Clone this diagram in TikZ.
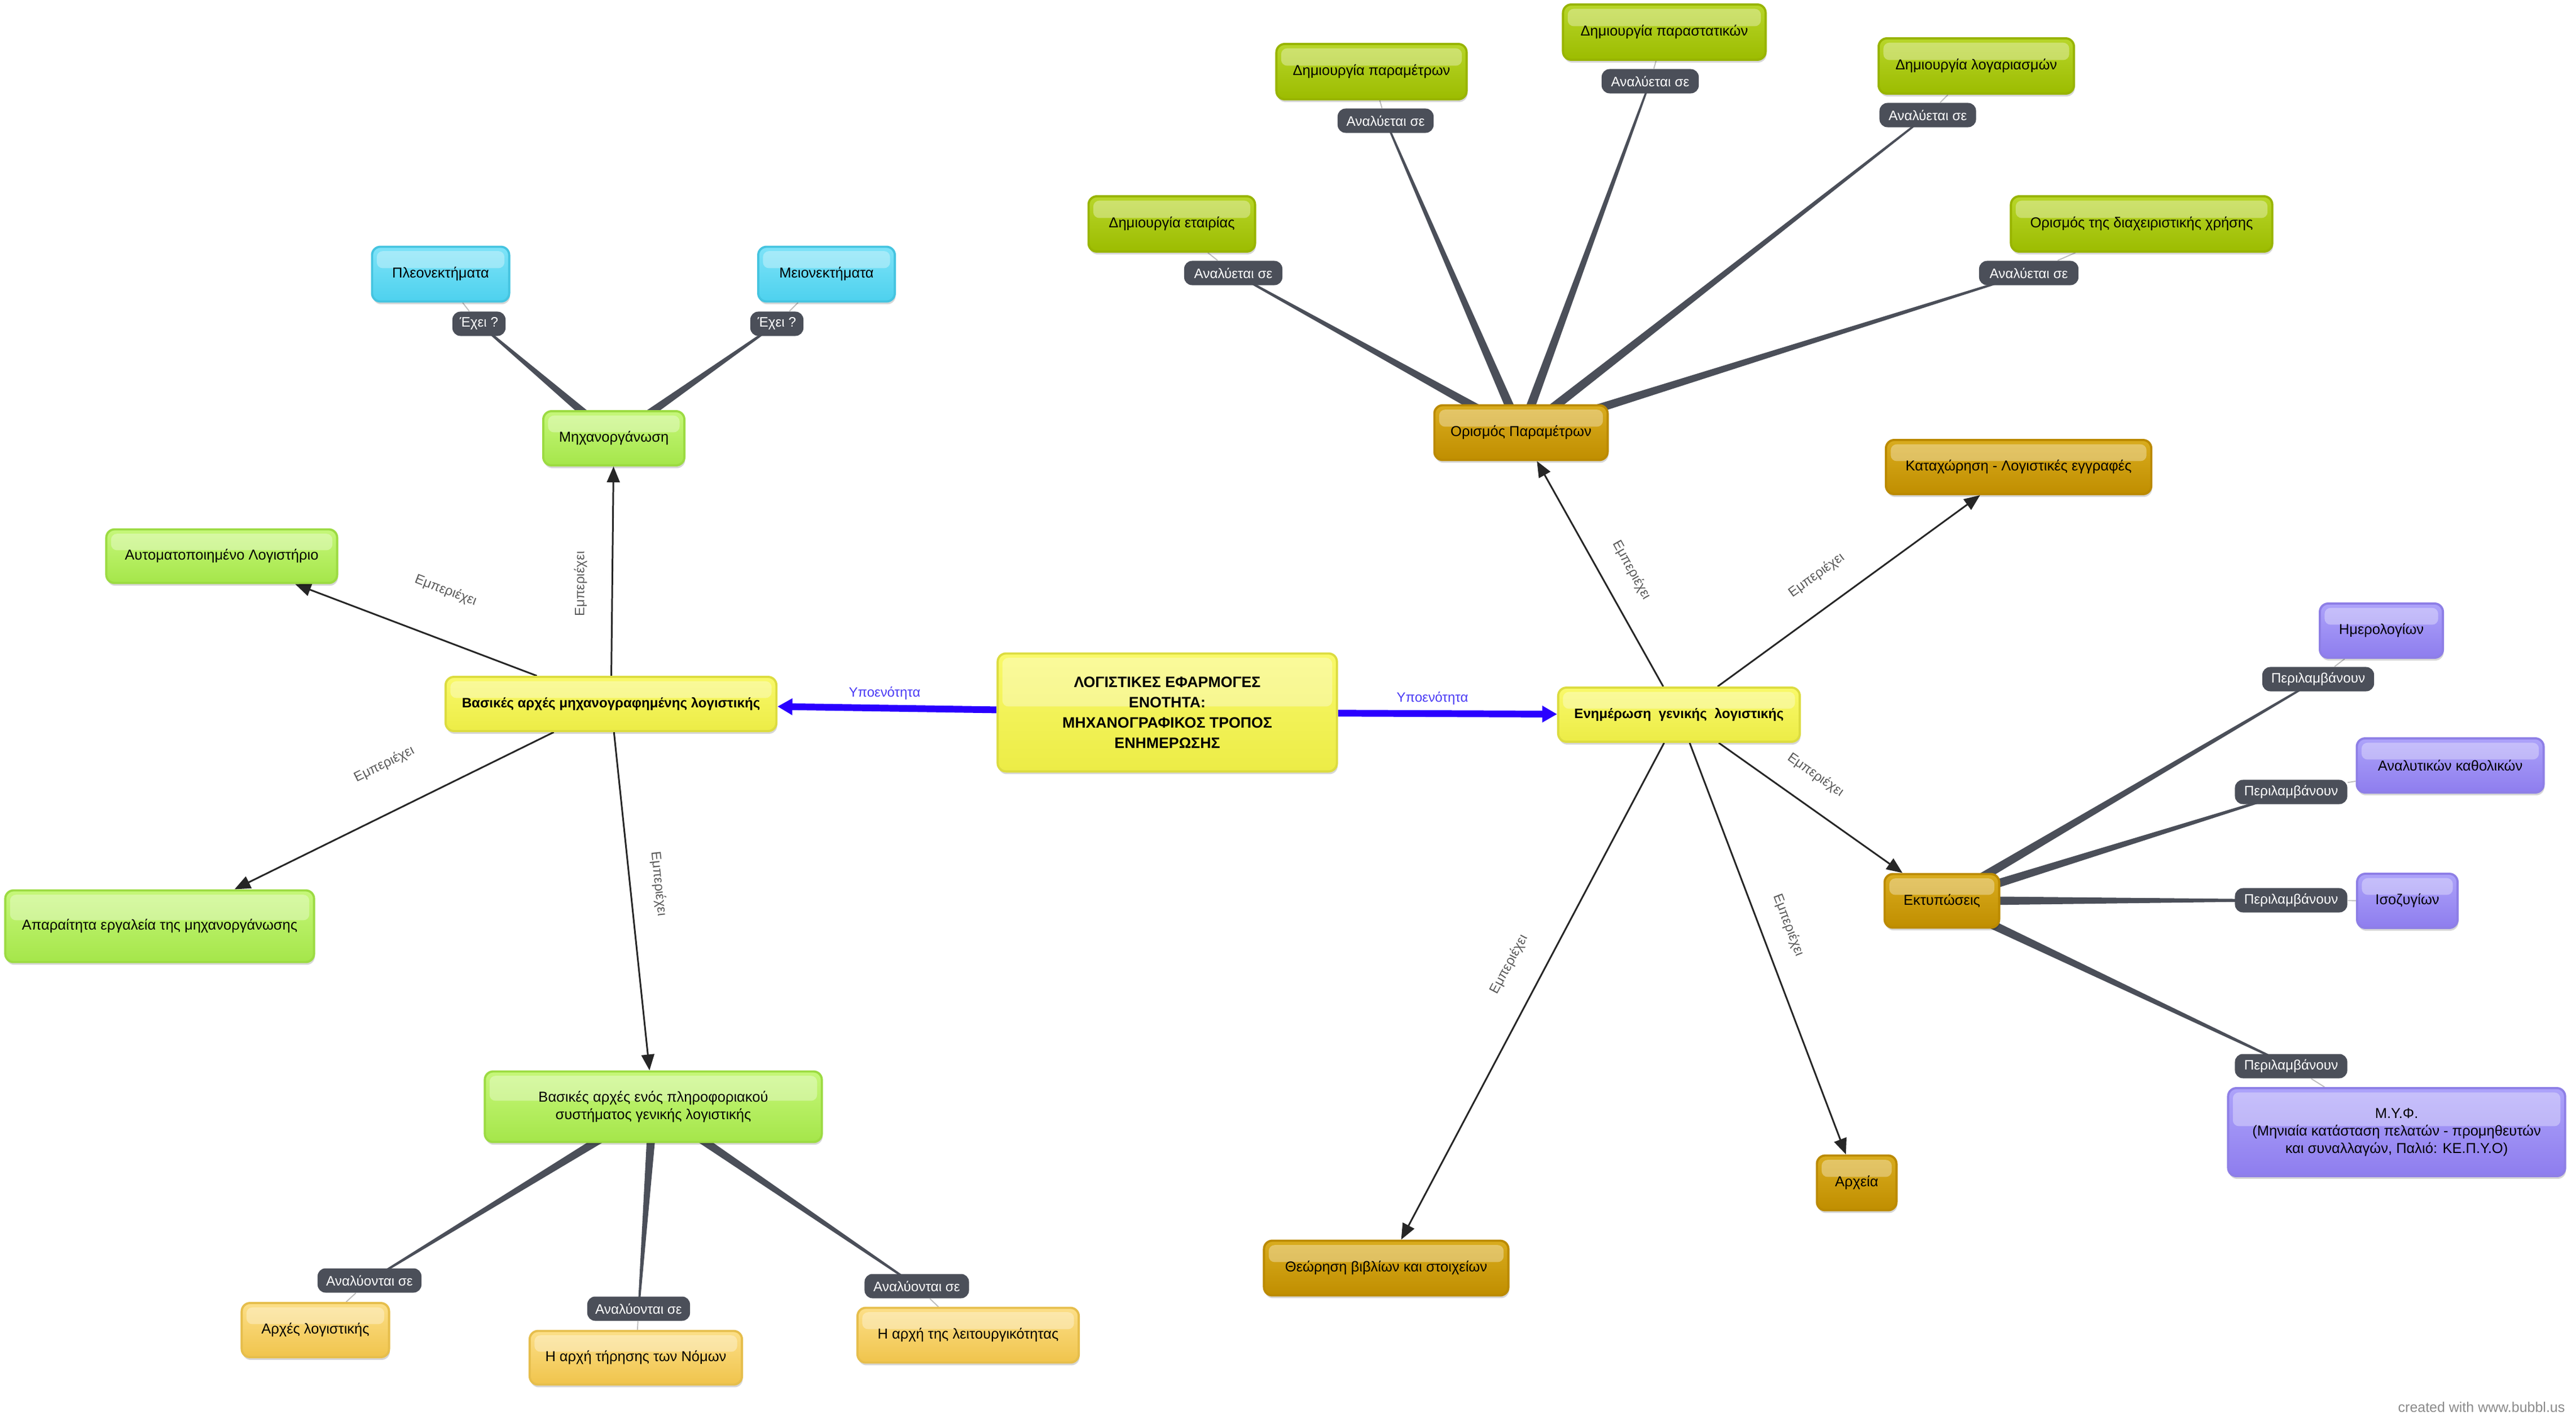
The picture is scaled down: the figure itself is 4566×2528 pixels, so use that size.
\documentclass[tikz,border=0pt]{standalone}
\usepackage{fontspec}
\setmainfont{Liberation Sans}
\usetikzlibrary{arrows.meta,calc,shadows}
\pgfdeclarelayer{bg}
\pgfdeclarelayer{edges}
\pgfsetlayers{bg,edges,main}

\definecolor{ytop}{HTML}{F9F96A}\definecolor{ybot}{HTML}{ECEC46}\definecolor{ybd}{HTML}{DCDC40}
\definecolor{gtop}{HTML}{C6F77A}\definecolor{gbot}{HTML}{A5E64A}\definecolor{gbd}{HTML}{9CDB42}
\definecolor{vtop}{HTML}{B8D62A}\definecolor{vbot}{HTML}{9CBC00}\definecolor{vbd}{HTML}{98B400}
\definecolor{ctop}{HTML}{7EE3F8}\definecolor{cbot}{HTML}{4DD1EE}\definecolor{cbd}{HTML}{45C4E0}
\definecolor{dtop}{HTML}{D9AC1E}\definecolor{dbot}{HTML}{C08E00}\definecolor{dbd}{HTML}{BB8A00}
\definecolor{otop}{HTML}{FCDF88}\definecolor{obot}{HTML}{F0C44C}\definecolor{obd}{HTML}{E6BE4C}
\definecolor{ptop}{HTML}{ADA3FA}\definecolor{pbot}{HTML}{8E7DEE}\definecolor{pbd}{HTML}{8E7FE6}
\definecolor{pillc}{HTML}{4B4F59}
\definecolor{taperc}{HTML}{4B4F59}
\definecolor{thinc}{HTML}{BDBDBD}
\definecolor{arrc}{HTML}{262626}
\definecolor{bluec}{HTML}{2A00FF}
\definecolor{labc}{HTML}{5A5A5A}
\definecolor{subc}{HTML}{4A3AF5}
\definecolor{credc}{HTML}{8A8A8A}

\newcommand\fnode{\fontsize{7.25pt}{8.8pt}\selectfont}
\newcommand\fbnode{\fontsize{6.85pt}{8.8pt}\selectfont\bfseries}
\newcommand\fpill{\fontsize{6.9pt}{8pt}\selectfont}
\newcommand\flab{\fontsize{6.8pt}{8pt}\selectfont}
\newcommand\fcenter{\fontsize{7.6pt}{10.3pt}\selectfont\bfseries}

\newcommand\taperline[2]{%
  \fill[taperc] ($(#1)!0.085cm!90:(#2)$) -- ($(#2)!0.015cm!-90:(#1)$) --
    ($(#2)!0.015cm!90:(#1)$) -- ($(#1)!0.085cm!-90:(#2)$) -- cycle;}

\tikzset{
  box/.style={rounded corners=4.2pt, line width=1.1pt, inner sep=0pt, align=center,
    font=\fnode, text=black,
    drop shadow={shadow xshift=0.4pt, shadow yshift=-1.4pt, opacity=0.16, fill=black},
    path picture={\fill[white,opacity=0.33,rounded corners=3pt]
      ([xshift=2.4pt,yshift=-2.2pt]path picture bounding box.north west) rectangle
      ([xshift=-2.4pt,yshift=3pt]path picture bounding box.east);}},
  ybox/.style={box, draw=ybd, top color=ytop, bottom color=ybot},
  gbox/.style={box, draw=gbd, top color=gtop, bottom color=gbot},
  vbox/.style={box, draw=vbd, top color=vtop, bottom color=vbot},
  cbox/.style={box, draw=cbd, top color=ctop, bottom color=cbot},
  dbox/.style={box, draw=dbd, top color=dtop, bottom color=dbot},
  obox/.style={box, draw=obd, top color=otop, bottom color=obot},
  pbox/.style={box, draw=pbd, top color=ptop, bottom color=pbot},
  pill/.style={fill=pillc, rounded corners=4pt, text=white, font=\fpill,
    inner sep=0pt, minimum height=0.43cm},
  elab/.style={font=\flab, text=labc, inner sep=0pt},
  sublab/.style={font=\flab, text=subc, inner sep=0pt},
  arr/.style={draw=arrc, line width=0.85pt, -{Triangle[length=8pt,width=6.5pt]}},
  bluearr/.style={draw=bluec, line width=3.4pt, -{Triangle[length=7.5pt,width=8pt]}},
  thinline/.style={draw=thinc, line width=0.55pt}
}

\begin{document}
\begin{tikzpicture}[x=0.01cm,y=-0.01cm]
\begin{pgfonlayer}{bg}
  \fill[white] (0,0) rectangle (4566,2528);
\end{pgfonlayer}
\useasboundingbox (0,0) rectangle (4566,2528);

% ---------- nodes ----------
\node[cbox, minimum width=2.43cm, minimum height=0.97cm] (pleon) at (781,486) {Πλεονεκτήματα};
\node[cbox, minimum width=2.42cm, minimum height=0.97cm] (meion) at (1465,486) {Μειονεκτήματα};
\node[gbox, minimum width=2.50cm, minimum height=0.96cm] (mech) at (1088,777) {Μηχανοργάνωση};
\node[ybox, font=\fbnode, minimum width=5.86cm, minimum height=0.96cm] (basicmech) at (1083,1248) {Βασικές αρχές μηχανογραφημένης λογιστικής};
\node[gbox, minimum width=4.09cm, minimum height=0.95cm] (auto) at (393,986) {Αυτοματοποιημένο Λογιστήριο};
\node[gbox, minimum width=5.47cm, minimum height=1.27cm] (apar) at (283,1642) {Απαραίτητα εργαλεία της μηχανοργάνωσης};
\node[gbox, minimum width=5.97cm, minimum height=1.25cm] (basicinfo) at (1158,1962) {Βασικές αρχές ενός πληροφοριακού\\συστήματος γενικής λογιστικής};
\node[obox, minimum width=2.61cm, minimum height=0.96cm] (arxes) at (559,2358) {Αρχές λογιστικής};
\node[obox, minimum width=3.76cm, minimum height=0.95cm] (nomwn) at (1127,2407) {Η αρχή τήρησης των Νόμων};
\node[obox, minimum width=3.92cm, minimum height=0.97cm] (leit) at (1716,2367) {Η αρχή της λειτουργικότητας};
\node[ybox, font=\fcenter, minimum width=6.01cm, minimum height=2.09cm] (center) at (2069,1263) {ΛΟΓΙΣΤΙΚΕΣ ΕΦΑΡΜΟΓΕΣ\\ΕΝΟΤΗΤΑ:\\ΜΗΧΑΝΟΓΡΑΦΙΚΟΣ ΤΡΟΠΟΣ\\ΕΝΗΜΕΡΩΣΗΣ};
\node[ybox, font=\fbnode, minimum width=4.28cm, minimum height=0.96cm] (enim) at (2976,1267) {Ενημέρωση~~γενικής~~λογιστικής};
\node[dbox, minimum width=3.07cm, minimum height=0.97cm] (orparam) at (2696,767) {Ορισμός Παραμέτρων};
\node[dbox, minimum width=4.70cm, minimum height=0.96cm] (katax) at (3578,828) {Καταχώρηση - Λογιστικές εγγραφές};
\node[vbox, minimum width=3.37cm, minimum height=0.98cm] (dimparam) at (2431,127) {Δημιουργία παραμέτρων};
\node[vbox, minimum width=3.59cm, minimum height=0.98cm] (dimparast) at (2950,57) {Δημιουργία παραστατικών};
\node[vbox, minimum width=3.46cm, minimum height=0.98cm] (dimlog) at (3503,117) {Δημιουργία λογαριασμών};
\node[vbox, minimum width=2.95cm, minimum height=0.98cm] (dimet) at (2077,397) {Δημιουργία εταιρίας};
\node[vbox, minimum width=4.63cm, minimum height=0.98cm] (orxrisi) at (3796,397) {Ορισμός της διαχειριστικής χρήσης};
\node[dbox, minimum width=2.03cm, minimum height=0.95cm] (ektyp) at (3442,1597) {Εκτυπώσεις};
\node[pbox, minimum width=2.18cm, minimum height=0.96cm] (imer) at (4221,1118) {Ημερολογίων};
\node[pbox, minimum width=3.31cm, minimum height=0.96cm] (analkath) at (4343,1357) {Αναλυτικών καθολικών};
\node[pbox, minimum width=1.78cm, minimum height=0.96cm] (isoz) at (4267,1597) {Ισοζυγίων};
\node[pbox, minimum width=5.97cm, minimum height=1.56cm] (myf) at (4248,2007) {Μ.Υ.Φ.\\(Μηνιαία κατάσταση πελατών - προμηθευτών\\και συναλλαγών, Παλιό: ΚΕ.Π.Υ.Ο)};
\node[dbox, minimum width=4.33cm, minimum height=0.97cm] (theor) at (2457,2248) {Θεώρηση βιβλίων και στοιχείων};
\node[dbox, minimum width=1.41cm, minimum height=0.97cm] (arxeia) at (3291,2097) {Αρχεία};

% ---------- pills ----------
\node[pill, minimum width=0.94cm] (exei1) at (849,574) {Έχει ?};
\node[pill, minimum width=0.94cm] (exei2) at (1377,574) {Έχει ?};
\node[pill, minimum width=1.74cm] (an1) at (2186,484) {Αναλύεται σε};
\node[pill, minimum width=1.70cm] (an2) at (2456,214) {Αναλύεται σε};
\node[pill, minimum width=1.72cm] (an3) at (2925,144) {Αναλύεται σε};
\node[pill, minimum width=1.71cm] (an4) at (3417,204) {Αναλύεται σε};
\node[pill, minimum width=1.76cm] (an5) at (3596,484) {Αναλύεται σε};
\node[pill, minimum width=1.84cm] (anl1) at (655,2270) {Αναλύονται σε};
\node[pill, minimum width=1.82cm] (anl2) at (1132,2320) {Αναλύονται σε};
\node[pill, minimum width=1.85cm] (anl3) at (1625,2280) {Αναλύονται σε};
\node[pill, minimum width=1.98cm] (per1) at (4109,1204) {Περιλαμβάνουν};
\node[pill, minimum width=1.99cm] (per2) at (4061,1404) {Περιλαμβάνουν};
\node[pill, minimum width=1.99cm] (per3) at (4061,1596) {Περιλαμβάνουν};
\node[pill, minimum width=1.99cm] (per4) at (4061,1890) {Περιλαμβάνουν};

% ---------- edge labels ----------
\node[elab, rotate=90] (l1) at (1029,1035) {Εμπεριέχει};
\node[elab, rotate=-21] (l2) at (790,1047) {Εμπεριέχει};
\node[elab, rotate=26] (l3) at (681,1355) {Εμπεριέχει};
\node[elab, rotate=-84] (l4) at (1167,1567) {Εμπεριέχει};
\node[elab, rotate=-61] (l5) at (2892,1011) {Εμπεριέχει};
\node[elab, rotate=36] (l6) at (3220,1020) {Εμπεριέχει};
\node[elab, rotate=-35] (l7) at (3218,1374) {Εμπεριέχει};
\node[elab, rotate=-69] (l8) at (3170,1640) {Εμπεριέχει};
\node[elab, rotate=62] (l9) at (2675,1710) {Εμπεριέχει};
\node[sublab] (s1) at (1568,1229) {Υποενότητα};
\node[sublab] (s2) at (2539,1238) {Υποενότητα};

\node[anchor=base east, inner sep=0pt, font=\fontsize{7.1pt}{8pt}\selectfont, text=credc] (credit) at (4547,2503) {created with www.bubbl.us};

% ---------- edges ----------
\begin{pgfonlayer}{edges}
  \taperline{mech}{exei1}
  \taperline{mech}{exei2}
  \taperline{orparam}{an1}
  \taperline{orparam}{an2}
  \taperline{orparam}{an3}
  \taperline{orparam}{an4}
  \taperline{orparam}{an5}
  \taperline{basicinfo}{anl1}
  \taperline{basicinfo}{anl2}
  \taperline{basicinfo}{anl3}
  \taperline{ektyp}{per1}
  \taperline{ektyp}{per2}
  \taperline{ektyp}{per3}
  \taperline{ektyp}{per4}

  \draw[thinline] (exei1) -- (pleon);
  \draw[thinline] (exei2) -- (meion);
  \draw[thinline] (an1) -- (dimet);
  \draw[thinline] (an2) -- (dimparam);
  \draw[thinline] (an3) -- (dimparast);
  \draw[thinline] (an4) -- (dimlog);
  \draw[thinline] (an5) -- (orxrisi);
  \draw[thinline] (anl1) -- (arxes);
  \draw[thinline] (anl2) -- (nomwn);
  \draw[thinline] (anl3) -- (leit);
  \draw[thinline] (per1) -- (imer);
  \draw[thinline] (per2) -- (analkath);
  \draw[thinline] (per3) -- (isoz);
  \draw[thinline] (per4) -- (myf);

  \draw[arr] (basicmech) -- (mech);
  \draw[arr] (basicmech) -- (auto);
  \draw[arr] (basicmech) -- (apar);
  \draw[arr] (basicmech) -- (basicinfo);
  \draw[arr] (enim) -- (orparam);
  \draw[arr] (enim) -- (katax);
  \draw[arr] (enim) -- (ektyp);
  \draw[arr] (enim) -- (arxeia);
  \draw[arr] (enim) -- (theor);

  \draw[bluearr] (center) -- (basicmech);
  \draw[bluearr] (center) -- (enim);
\end{pgfonlayer}
\end{tikzpicture}
\end{document}
